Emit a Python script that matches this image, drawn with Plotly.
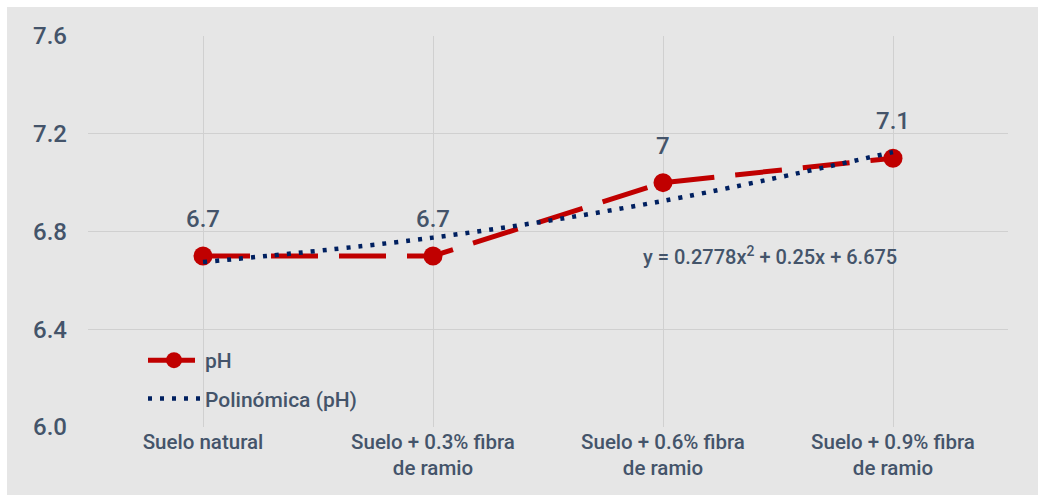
import plotly.graph_objects as go

categories = ["Suelo natural", "Suelo + 0.3% fibra<br>de ramio", "Suelo + 0.6% fibra<br>de ramio", "Suelo + 0.9% fibra<br>de ramio"]
ph_values = [6.7, 6.7, 7.0, 7.1]
trend_values = [6.675, 6.775, 6.925, 7.125]
y_ticks = [6.0, 6.4, 6.8, 7.2, 7.6]
equation_text = "y = 0.2778x<sup>2</sup> + 0.25x + 6.675"

FONT = "Roboto, Liberation Sans, Arial, sans-serif"
TXT = "#44546a"
RED = "#c00000"
NAVY = "#002060"
BG = "#e6e6e6"
GRID = "#d0d0d0"

W, H = 1038, 495
ML, MR, MT, MB = 88, 30, 36, 68
PW, PH = W - ML - MR, H - MT - MB

fig = go.Figure()
fig.add_trace(go.Scatter(
    x=categories, y=ph_values, name="pH", mode="lines+markers",
    line=dict(color=RED, width=5, dash="47px,21px"),
    marker=dict(color=RED, size=19, symbol="circle"),
    legendgroup="a",
))
fig.add_trace(go.Scatter(
    x=categories, y=trend_values, name="Polinómica (pH)", mode="lines",
    line=dict(color=NAVY, width=4.5, dash="4px,8px", shape="spline"),
    legendgroup="b",
))

for c, v in zip(categories, ph_values):
    fig.add_annotation(x=c, y=v, text=f"{v:g}", showarrow=False, yshift=37,
                       font=dict(family=FONT, size=24, color=TXT, weight=500))

fig.add_annotation(x=categories[-1], y=ph_values[0], xref="x", yref="y", text=equation_text,
                   showarrow=False, xanchor="right", yanchor="middle", xshift=6,
                   font=dict(family=FONT, size=20, color=TXT, weight=500))

def px_to_paper_x(px):
    return (px - ML) / PW

def py_to_paper_y(py):
    return (H - MB - py) / PH

# white frame strips (left and top)
fig.add_shape(type="rect", xref="paper", yref="paper", layer="below",
              x0=px_to_paper_x(-5), x1=px_to_paper_x(7), y0=py_to_paper_y(H + 5), y1=py_to_paper_y(-5),
              fillcolor="white", line=dict(width=0))
fig.add_shape(type="rect", xref="paper", yref="paper", layer="below",
              x0=px_to_paper_x(-5), x1=px_to_paper_x(W + 5), y0=py_to_paper_y(7), y1=py_to_paper_y(-5),
              fillcolor="white", line=dict(width=0))

fig.update_layout(
    width=W, height=H,
    margin=dict(l=ML, r=MR, t=MT, b=MB),
    paper_bgcolor=BG, plot_bgcolor=BG,
    font=dict(family=FONT, size=20, color=TXT, weight=500),
    showlegend=True,
    legend=dict(
        x=px_to_paper_x(143), y=py_to_paper_y(340), xanchor="left", yanchor="top",
        bgcolor="rgba(0,0,0,0)", itemwidth=52, traceorder="grouped", tracegroupgap=8,
        font=dict(family=FONT, size=21, color=TXT, weight=500),
    ),
    xaxis=dict(
        type="category", range=[-0.5, 3.5], showgrid=True, gridcolor=GRID, gridwidth=1,
        showline=False, zeroline=False, ticks="", tickfont=dict(family=FONT, size=20.5, color=TXT, weight=500),
    ),
    yaxis=dict(
        range=[6.0, 7.6], tickvals=y_ticks, ticktext=[f"{t:.1f}" for t in y_ticks],
        showgrid=True, gridcolor=GRID, gridwidth=1, zeroline=False, showline=False,
        ticks="", ticklabelstandoff=20, tickfont=dict(family=FONT, size=24, color=TXT, weight=500),
    ),
)

fig.write_html("out.html")
